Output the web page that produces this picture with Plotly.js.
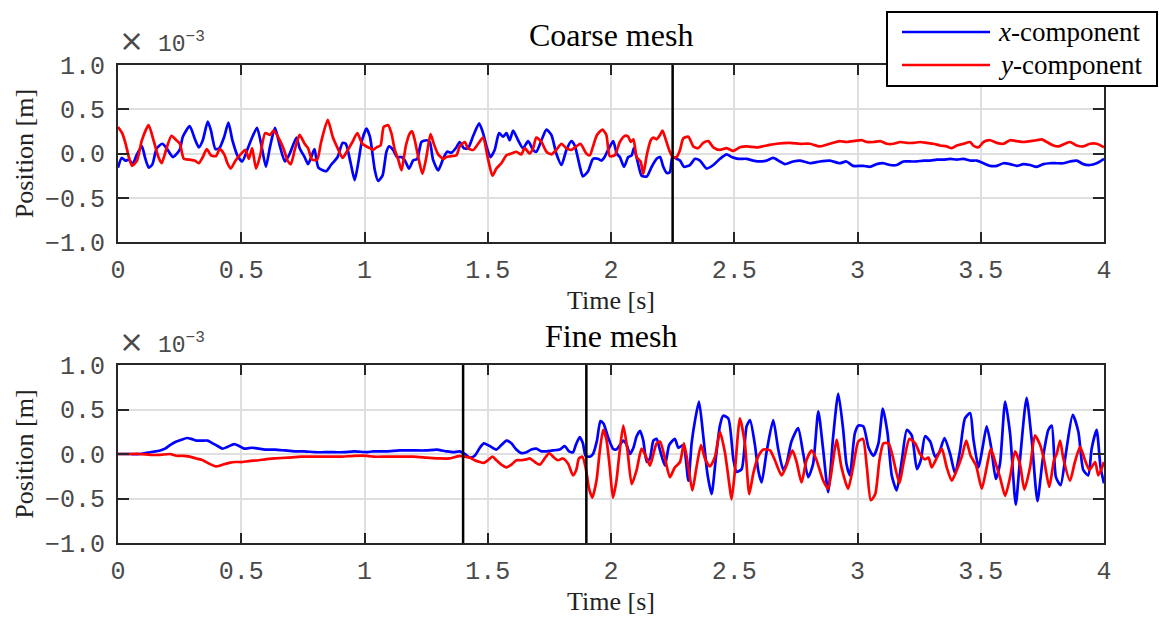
<!DOCTYPE html>
<html>
<head>
<meta charset="utf-8">
<script src="https://cdn.plot.ly/plotly-3.0.1.min.js"></script>
<style>html,body{margin:0;padding:0;background:#fff;}#chart{width:1159px;height:617px;}</style>
</head>
<body>
<div id="chart"></div>
<script>
// ---------- Coarse mesh (values in units of 1e-3 m) ----------
const coarseXt = [0.000,0.015,0.030,0.045,0.060,0.075,0.097,0.110,0.125,0.140,0.157,0.180,0.197,0.223,0.250,0.263,0.291,0.311,0.328,0.344,0.364,0.377,0.395,0.411,0.431,0.448,0.464,0.484,0.504,0.524,0.544,0.564,0.584,0.600,0.617,0.637,0.657,0.677,0.697,0.724,0.737,0.757,0.771,0.784,0.797,0.813,0.844,0.864,0.891,0.911,0.924,0.944,0.960,0.975,0.990,1.008,1.022,1.042,1.055,1.073,1.089,1.100,1.116,1.132,1.150,1.164,1.181,1.197,1.214,1.231,1.251,1.265,1.278,1.299,1.319,1.335,1.353,1.373,1.386,1.403,1.420,1.441,1.465,1.481,1.495,1.511,1.528,1.546,1.562,1.576,1.589,1.603,1.623,1.643,1.664,1.684,1.697,1.718,1.738,1.758,1.778,1.799,1.819,1.839,1.853,1.873,1.886,1.907,1.927,1.947,1.961,1.974,1.988,2.009,2.023,2.036,2.053,2.070,2.084,2.093,2.107,2.124,2.145,2.165,2.185,2.199,2.212,2.226,2.239,2.249,2.266,2.280,2.296,2.320,2.341,2.361,2.388,2.415,2.442,2.469,2.489,2.516,2.550,2.577,2.604,2.631,2.658,2.685,2.705,2.739,2.766,2.807,2.847,2.888,2.928,2.955,2.982,3.024,3.051,3.078,3.105,3.132,3.159,3.186,3.214,3.241,3.268,3.295,3.322,3.349,3.376,3.403,3.430,3.457,3.484,3.511,3.538,3.565,3.592,3.619,3.646,3.673,3.700,3.727,3.754,3.781,3.808,3.835,3.862,3.889,3.916,3.943,3.970,4.000];
const coarseX = [-0.16,-0.05,-0.08,-0.07,-0.12,-0.02,0.08,-0.05,-0.16,-0.12,0.06,0.11,0.06,-0.04,0.04,0.19,0.31,0.17,0.07,0.15,0.36,0.26,0.05,0.06,0.19,0.35,0.15,-0.02,-0.09,0.04,0.18,0.29,0.06,-0.15,0.08,0.29,0.08,-0.09,0.00,0.18,0.06,-0.04,-0.12,-0.04,0.05,-0.16,-0.20,-0.13,-0.04,0.12,0.11,-0.11,-0.30,-0.10,0.15,0.28,0.19,-0.19,-0.31,-0.25,0.02,0.08,0.04,-0.04,-0.04,-0.08,-0.17,-0.08,-0.06,0.13,0.15,0.13,-0.07,-0.19,-0.06,0.02,0.01,0.07,0.13,0.06,0.06,0.20,0.34,0.23,0.08,-0.04,0.04,0.23,0.19,0.23,0.15,0.26,0.15,0.06,0.14,0.04,0.02,0.15,0.27,0.21,0.00,-0.13,0.04,0.14,0.09,-0.14,-0.26,-0.20,-0.06,-0.06,-0.08,-0.04,0.04,0.14,0.00,-0.04,-0.15,-0.04,-0.02,0.06,-0.08,-0.25,-0.26,-0.15,-0.06,-0.04,-0.15,-0.22,-0.21,-0.04,-0.06,-0.08,-0.15,-0.13,-0.06,-0.08,-0.17,-0.13,-0.06,-0.01,-0.04,-0.06,-0.06,-0.08,-0.09,-0.08,-0.05,-0.09,-0.12,-0.09,-0.08,-0.11,-0.09,-0.08,-0.11,-0.09,-0.14,-0.14,-0.15,-0.12,-0.11,-0.13,-0.13,-0.09,-0.09,-0.09,-0.08,-0.08,-0.07,-0.07,-0.06,-0.07,-0.06,-0.08,-0.08,-0.11,-0.14,-0.14,-0.11,-0.12,-0.14,-0.12,-0.13,-0.15,-0.12,-0.11,-0.11,-0.11,-0.09,-0.08,-0.12,-0.13,-0.11,-0.06];
const coarseYt = [0.000,0.017,0.031,0.044,0.057,0.077,0.097,0.124,0.144,0.164,0.177,0.197,0.217,0.237,0.251,0.267,0.291,0.311,0.328,0.344,0.360,0.377,0.397,0.413,0.431,0.444,0.457,0.477,0.497,0.517,0.531,0.544,0.560,0.577,0.597,0.617,0.631,0.651,0.671,0.688,0.701,0.717,0.737,0.757,0.771,0.787,0.808,0.824,0.851,0.871,0.891,0.911,0.928,0.951,0.971,0.991,1.022,1.035,1.049,1.065,1.078,1.096,1.109,1.123,1.136,1.150,1.168,1.184,1.193,1.204,1.218,1.235,1.251,1.268,1.281,1.299,1.319,1.332,1.353,1.373,1.386,1.407,1.420,1.441,1.461,1.481,1.501,1.519,1.535,1.555,1.576,1.596,1.616,1.636,1.650,1.670,1.684,1.697,1.718,1.738,1.758,1.778,1.799,1.819,1.839,1.859,1.876,1.900,1.914,1.927,1.943,1.965,1.981,1.995,2.015,2.036,2.057,2.070,2.080,2.091,2.104,2.120,2.131,2.145,2.161,2.172,2.185,2.199,2.209,2.223,2.236,2.250,2.266,2.280,2.293,2.314,2.334,2.354,2.374,2.395,2.415,2.442,2.469,2.496,2.523,2.550,2.591,2.631,2.672,2.726,2.766,2.807,2.847,2.888,2.928,2.955,2.982,3.018,3.038,3.065,3.092,3.119,3.146,3.173,3.200,3.227,3.254,3.281,3.308,3.335,3.362,3.382,3.403,3.430,3.457,3.470,3.491,3.511,3.538,3.565,3.592,3.619,3.646,3.673,3.700,3.727,3.747,3.768,3.795,3.816,3.842,3.862,3.889,3.916,3.943,3.970,4.000];
const coarseY = [0.30,0.23,0.11,-0.04,-0.14,-0.08,0.15,0.32,0.15,-0.04,-0.11,0.06,0.20,0.15,0.11,-0.06,-0.07,-0.08,-0.11,-0.04,0.05,-0.02,-0.03,0.05,-0.01,-0.11,-0.17,-0.08,-0.01,0.04,-0.06,0.06,-0.17,-0.02,0.23,0.21,0.26,0.18,0.06,-0.08,-0.12,0.04,0.21,0.11,0.06,-0.07,-0.07,0.13,0.38,0.19,0.06,-0.05,0.02,0.13,0.23,0.11,0.06,0.04,0.07,0.09,0.30,0.32,0.23,0.04,-0.06,-0.19,0.09,0.23,0.25,0.15,-0.04,-0.23,-0.04,0.22,0.11,-0.01,-0.06,-0.04,-0.03,-0.02,0.08,0.13,0.06,0.04,0.11,0.18,-0.06,-0.25,-0.17,-0.11,-0.02,0.00,0.02,-0.01,0.06,0.00,0.06,0.18,0.13,0.02,-0.01,0.04,0.11,0.06,0.04,0.08,0.11,0.00,-0.02,0.08,0.21,0.27,0.21,-0.03,-0.02,0.13,0.20,0.19,0.13,0.16,-0.04,-0.09,-0.23,-0.02,0.15,0.18,0.16,0.21,0.26,0.15,0.04,-0.04,-0.04,0.04,0.17,0.19,0.08,0.06,0.12,0.14,0.07,0.04,0.06,0.03,0.07,0.08,0.07,0.09,0.11,0.12,0.11,0.11,0.08,0.11,0.14,0.13,0.14,0.15,0.13,0.13,0.14,0.11,0.11,0.13,0.12,0.12,0.13,0.12,0.11,0.09,0.08,0.06,0.09,0.11,0.13,0.09,0.07,0.13,0.15,0.12,0.11,0.15,0.14,0.13,0.14,0.15,0.16,0.13,0.09,0.08,0.11,0.13,0.09,0.08,0.11,0.11,0.07];

// ---------- Fine mesh (values in units of 1e-3 m) ----------
const fineXt = [0.000,0.051,0.091,0.131,0.171,0.191,0.211,0.237,0.257,0.280,0.297,0.317,0.337,0.364,0.384,0.404,0.424,0.444,0.471,0.491,0.511,0.544,0.571,0.597,0.637,0.677,0.717,0.757,0.797,0.837,0.877,0.917,0.957,1.011,1.035,1.089,1.143,1.197,1.251,1.292,1.332,1.359,1.386,1.407,1.427,1.447,1.468,1.484,1.508,1.535,1.555,1.576,1.596,1.616,1.636,1.657,1.677,1.697,1.718,1.738,1.765,1.792,1.812,1.830,1.846,1.857,1.873,1.886,1.897,1.914,1.927,1.943,1.957,1.970,1.988,2.008,2.022,2.036,2.050,2.064,2.077,2.091,2.104,2.118,2.131,2.145,2.158,2.172,2.185,2.199,2.219,2.236,2.259,2.273,2.293,2.314,2.327,2.341,2.357,2.374,2.391,2.408,2.426,2.442,2.455,2.476,2.496,2.509,2.530,2.550,2.564,2.584,2.597,2.611,2.631,2.658,2.678,2.699,2.712,2.732,2.759,2.780,2.800,2.820,2.841,2.861,2.881,2.901,2.922,2.942,2.955,2.969,2.989,3.004,3.024,3.045,3.065,3.085,3.103,3.122,3.139,3.159,3.180,3.200,3.220,3.241,3.257,3.274,3.295,3.315,3.332,3.353,3.376,3.396,3.416,3.436,3.457,3.470,3.491,3.508,3.524,3.542,3.561,3.578,3.599,3.619,3.642,3.659,3.686,3.707,3.730,3.751,3.774,3.788,3.805,3.824,3.846,3.873,3.896,3.916,3.936,3.950,3.970,3.986,4.000];
const fineX = [0.00,0.00,0.00,0.02,0.04,0.06,0.10,0.14,0.16,0.18,0.17,0.15,0.15,0.15,0.12,0.09,0.06,0.08,0.11,0.09,0.06,0.07,0.06,0.05,0.05,0.04,0.03,0.03,0.02,0.02,0.02,0.02,0.03,0.02,0.03,0.03,0.04,0.04,0.04,0.05,0.03,0.02,0.03,0.00,-0.04,-0.02,0.07,0.12,0.09,0.05,0.10,0.15,0.12,0.05,0.01,0.02,0.05,0.06,0.03,0.03,0.04,0.05,0.09,0.03,0.02,0.10,0.19,0.12,-0.02,-0.03,0.00,0.15,0.37,0.34,0.19,0.06,0.05,0.10,0.15,0.10,0.00,0.07,0.20,0.26,0.15,-0.09,-0.05,0.15,0.17,0.04,-0.13,0.10,0.17,0.07,0.10,-0.30,0.12,0.38,0.59,0.21,-0.22,-0.45,-0.03,0.32,0.43,0.40,-0.05,-0.20,-0.17,0.31,0.38,0.10,-0.18,-0.32,0.02,0.38,0.06,-0.18,-0.11,0.14,0.29,0.00,-0.26,-0.11,0.48,0.04,-0.43,0.19,0.68,0.27,-0.11,-0.24,0.23,0.32,0.31,0.07,-0.02,0.12,0.51,0.23,-0.24,-0.41,-0.07,0.27,0.21,-0.17,-0.07,0.20,0.14,-0.03,0.02,0.18,0.00,-0.22,0.04,0.40,0.46,0.17,-0.15,0.08,0.31,0.08,-0.28,-0.11,0.59,0.23,-0.57,-0.07,0.63,0.15,-0.53,-0.07,0.27,0.32,-0.26,-0.35,0.02,0.44,0.25,-0.18,-0.24,0.06,0.27,-0.15,-0.33];
const fineYt = [0.000,0.051,0.091,0.131,0.171,0.211,0.237,0.264,0.291,0.317,0.344,0.371,0.397,0.424,0.451,0.477,0.504,0.531,0.571,0.597,0.637,0.691,0.744,0.797,0.851,0.904,0.957,1.011,1.035,1.089,1.143,1.197,1.251,1.305,1.346,1.373,1.386,1.407,1.427,1.447,1.468,1.484,1.501,1.519,1.535,1.555,1.576,1.596,1.616,1.636,1.657,1.670,1.691,1.711,1.731,1.749,1.765,1.785,1.805,1.826,1.846,1.859,1.870,1.884,1.897,1.911,1.924,1.941,1.954,1.968,1.981,1.995,2.008,2.022,2.036,2.050,2.066,2.084,2.104,2.124,2.142,2.158,2.172,2.185,2.199,2.219,2.239,2.259,2.280,2.296,2.314,2.330,2.345,2.365,2.381,2.401,2.422,2.442,2.462,2.480,2.489,2.503,2.523,2.543,2.561,2.577,2.597,2.618,2.645,2.665,2.692,2.712,2.736,2.753,2.773,2.793,2.814,2.834,2.861,2.881,2.899,2.915,2.935,2.962,2.982,3.003,3.022,3.038,3.054,3.072,3.089,3.105,3.126,3.143,3.170,3.186,3.211,3.234,3.254,3.274,3.288,3.301,3.324,3.342,3.362,3.382,3.403,3.423,3.441,3.459,3.481,3.504,3.524,3.541,3.561,3.578,3.599,3.619,3.639,3.659,3.677,3.700,3.720,3.741,3.757,3.778,3.797,3.808,3.822,3.835,3.862,3.882,3.903,3.923,3.941,3.964,3.977,3.995,4.000];
const fineY = [0.00,0.00,0.00,-0.01,-0.01,0.00,-0.02,-0.02,-0.03,-0.05,-0.07,-0.11,-0.14,-0.12,-0.10,-0.09,-0.09,-0.08,-0.07,-0.06,-0.05,-0.04,-0.03,-0.03,-0.03,-0.03,-0.02,-0.02,-0.03,-0.03,-0.03,-0.03,-0.04,-0.05,-0.05,-0.03,-0.02,-0.03,-0.04,-0.07,-0.09,-0.10,-0.07,-0.03,-0.07,-0.12,-0.15,-0.12,-0.07,-0.07,-0.06,-0.05,-0.09,-0.12,-0.05,0.01,-0.03,-0.07,-0.05,-0.11,-0.24,-0.18,-0.05,-0.03,-0.15,-0.39,-0.49,-0.30,0.02,0.27,0.17,-0.15,-0.49,-0.30,0.05,0.32,0.06,-0.34,-0.18,0.06,-0.03,-0.13,0.00,0.12,0.14,-0.05,-0.26,-0.15,-0.09,0.12,-0.15,-0.41,-0.18,0.10,-0.05,-0.14,-0.03,0.25,0.02,-0.34,-0.51,-0.18,0.40,0.12,-0.45,-0.22,-0.03,0.05,0.04,-0.07,-0.24,-0.13,0.04,-0.09,-0.32,-0.07,0.04,-0.07,-0.30,-0.39,-0.11,0.16,-0.15,-0.39,-0.15,0.14,0.17,-0.15,-0.52,-0.45,-0.07,0.12,0.12,-0.03,-0.33,-0.11,0.17,0.12,0.00,-0.06,-0.04,-0.15,-0.03,0.06,-0.15,-0.30,-0.18,-0.03,0.15,-0.02,-0.13,-0.39,-0.15,0.06,-0.11,-0.26,-0.47,-0.26,0.03,-0.11,-0.40,-0.15,0.21,0.10,-0.07,-0.37,-0.07,0.00,0.15,-0.05,-0.30,-0.09,0.08,-0.07,-0.18,-0.09,-0.24,-0.13,-0.09];

// Vertical marker times [s]
const coarseMarks = [2.25];
const fineMarks = [1.40, 1.90];

const seriesNames = ['<i>x</i>-component', '<i>y</i>-component'];
const seriesColors = ['#0000ff', '#ff0000'];
const panelTitles = ['Coarse mesh', 'Fine mesh'];
const xTickVals = [0, 0.5, 1, 1.5, 2, 2.5, 3, 3.5, 4];
const yTickVals = [-1, -0.5, 0, 0.5, 1];

const serif = 'Liberation Serif, Times New Roman, serif';
const mono = 'Liberation Mono, DejaVu Sans Mono, monospace';
const axisColor = '#262626';
const tickTextColor = '#4a4a4a';

const traces = [
  {x: coarseXt, y: coarseX, name: seriesNames[0], xaxis: 'x', yaxis: 'y'},
  {x: coarseYt, y: coarseY, name: seriesNames[1], xaxis: 'x', yaxis: 'y'},
  {x: fineXt, y: fineX, name: seriesNames[0], xaxis: 'x2', yaxis: 'y2'},
  {x: fineYt, y: fineY, name: seriesNames[1], xaxis: 'x2', yaxis: 'y2'}
].map((t, i) => Object.assign({
  type: 'scatter', mode: 'lines', showlegend: false,
  line: {color: seriesColors[i % 2], width: 2.7, shape: 'spline', smoothing: 0.6},
  hoverinfo: 'x+y'
}, t));

const W = 1159, H = 617;
const xDom = [118 / W, 1104 / W];
function xAxis(anchor, title) {
  return {
    domain: xDom, anchor: anchor, range: [0, 4], tickvals: xTickVals,
    ticks: 'inside', ticklen: 10, tickwidth: 2, tickcolor: axisColor,
    showline: true, mirror: 'ticks', linecolor: axisColor, linewidth: 2,
    showgrid: true, gridcolor: '#dfdfdf', gridwidth: 2, zeroline: false,
    tickfont: {family: mono, size: 25, color: tickTextColor}, ticklabelstandoff: 4,
    title: {text: title, font: {family: serif, size: 26, color: '#222'}, standoff: 4},
    fixedrange: true
  };
}
function yAxis(anchor, dom) {
  return {
    domain: dom, anchor: anchor, range: [-1, 1], tickvals: yTickVals, tickformat: '.1f',
    ticks: 'inside', ticklen: 11, tickwidth: 2, tickcolor: axisColor,
    showline: true, mirror: 'ticks', linecolor: axisColor, linewidth: 2,
    showgrid: true, gridcolor: '#dfdfdf', gridwidth: 2, zeroline: false,
    tickfont: {family: mono, size: 25, color: tickTextColor}, ticklabelstandoff: 6,
    title: {text: 'Position [m]', font: {family: serif, size: 26, color: '#222'}, standoff: 4},
    fixedrange: true
  };
}
const shapes = [];
coarseMarks.forEach(m => shapes.push({type: 'line', xref: 'x', yref: 'y domain', x0: m, x1: m, y0: 0, y1: 1, line: {color: '#000', width: 2.5}}));
fineMarks.forEach(m => shapes.push({type: 'line', xref: 'x2', yref: 'y2 domain', x0: m, x1: m, y0: 0, y1: 1, line: {color: '#000', width: 2.5}}));

// Legend box (drawn over the top panel's frame, as in the reference)
const px = v => v / W, py = v => 1 - v / H;
shapes.push({type: 'rect', xref: 'paper', yref: 'paper', x0: px(887), x1: px(1157), y0: py(12), y1: py(86),
             fillcolor: '#fff', line: {color: '#000', width: 2}, layer: 'above'});
const legendRows = [32, 65];
const annotations = [];
seriesNames.forEach((nm, i) => {
  shapes.push({type: 'line', xref: 'paper', yref: 'paper', x0: px(902), x1: px(990), y0: py(legendRows[i]), y1: py(legendRows[i]),
               line: {color: seriesColors[i], width: 2.6}, layer: 'above'});
  annotations.push({text: nm, xref: 'paper', yref: 'paper', x: px(996), y: py(legendRows[i]), xanchor: 'left', yanchor: 'middle',
                    showarrow: false, font: {family: serif, size: 27, color: '#000'}});
});

const topDom = [(H - 242) / H, (H - 65) / H];
const botDom = [(H - 543) / H, (H - 365) / H];

const expText = '<span style="font-family:DejaVu Sans;font-size:30px">×</span> 10<sup>−3</sup>';
annotations.push(
  {text: panelTitles[0], xref: 'paper', yref: 'paper', x: px(611), y: py(35), xanchor: 'center', yanchor: 'middle', showarrow: false, font: {family: serif, size: 32, color: '#000'}},
  {text: panelTitles[1], xref: 'paper', yref: 'paper', x: px(611), y: py(336), xanchor: 'center', yanchor: 'middle', showarrow: false, font: {family: serif, size: 32, color: '#000'}},
  {text: expText, xref: 'paper', yref: 'paper', x: px(117), y: py(41), xanchor: 'left', yanchor: 'middle', showarrow: false, font: {family: mono, size: 23, color: tickTextColor}},
  {text: expText, xref: 'paper', yref: 'paper', x: px(117), y: py(342), xanchor: 'left', yanchor: 'middle', showarrow: false, font: {family: mono, size: 23, color: tickTextColor}}
);

const layout = {
  width: W, height: H, margin: {l: 0, r: 0, t: 0, b: 0},
  paper_bgcolor: '#fff', plot_bgcolor: '#fff',
  showlegend: false,
  xaxis: xAxis('y', 'Time [s]'), yaxis: yAxis('x', topDom),
  xaxis2: xAxis('y2', 'Time [s]'), yaxis2: yAxis('x2', botDom),
  shapes: shapes, annotations: annotations
};
Plotly.newPlot('chart', traces, layout, {staticPlot: true, displayModeBar: false});
</script>
</body>
</html>
